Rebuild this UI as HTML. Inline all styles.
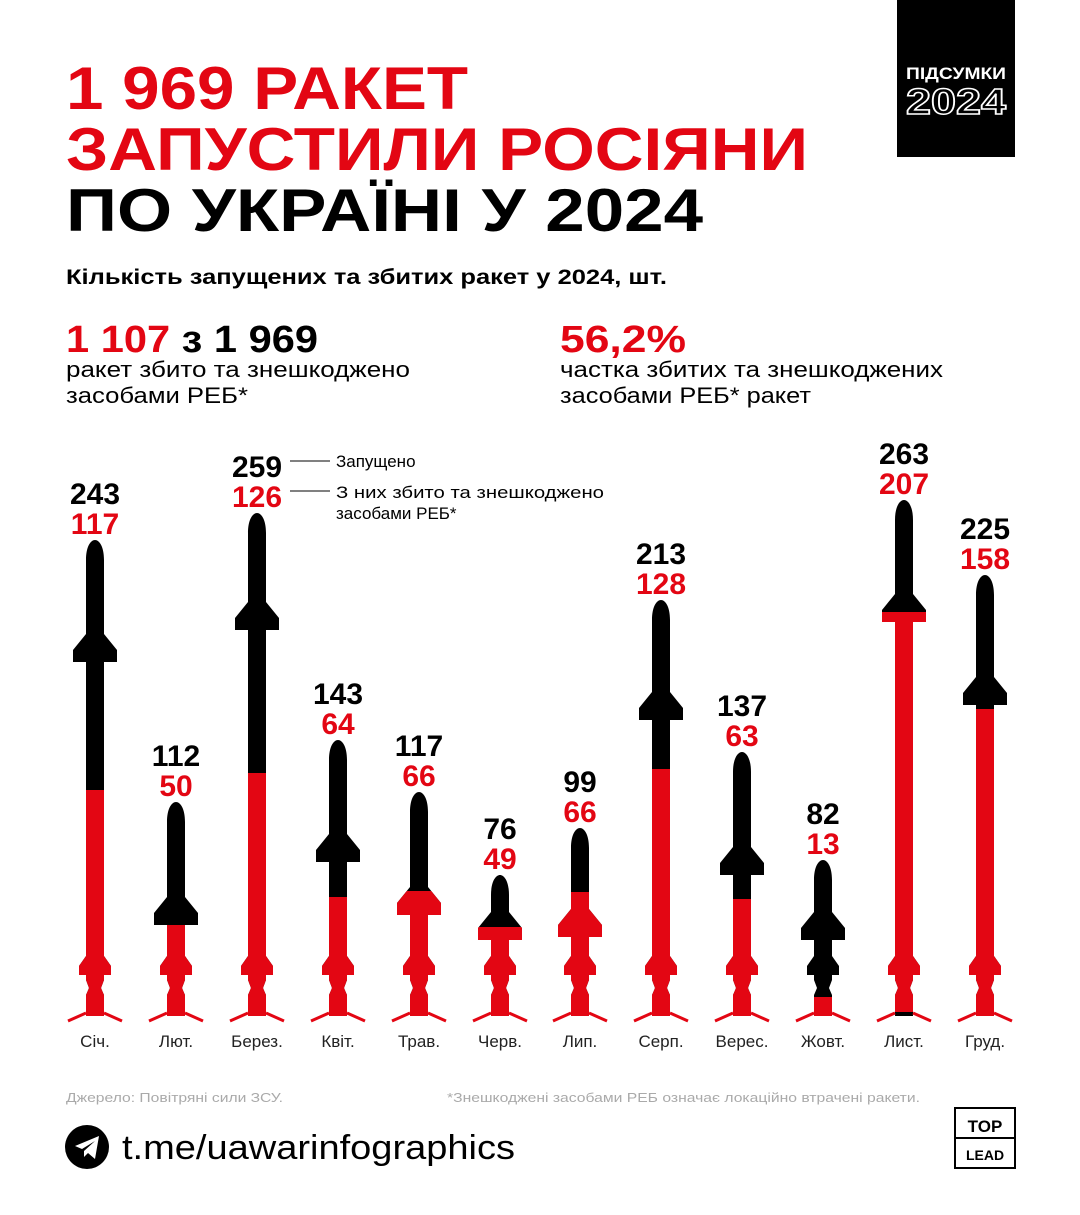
<!DOCTYPE html>
<html><head><meta charset="utf-8"><style>
html,body{margin:0;padding:0;background:#fff}
svg{display:block}
text{font-family:"Liberation Sans",sans-serif}
</style></head><body>
<svg width="1080" height="1215" viewBox="0 0 1080 1215" xmlns="http://www.w3.org/2000/svg">
<rect width="1080" height="1215" fill="#fff"/>
<rect x="897" y="0" width="118" height="157" fill="#000"/>
<text x="956" y="79" text-anchor="middle" font-size="17" font-weight="bold" fill="#fff" textLength="100" lengthAdjust="spacingAndGlyphs">ПІДСУМКИ</text>
<text x="956" y="114" text-anchor="middle" font-size="36" font-weight="bold" fill="none" stroke="#fff" stroke-width="1.5" textLength="100" lengthAdjust="spacingAndGlyphs">2024</text>
<g font-weight="bold" font-size="60">
<text x="66" y="109" fill="#e30613" textLength="402" lengthAdjust="spacingAndGlyphs">1 969 РАКЕТ</text>
<text x="66" y="170" fill="#e30613" textLength="742" lengthAdjust="spacingAndGlyphs">ЗАПУСТИЛИ РОСІЯНИ</text>
<text x="66" y="231" fill="#000" textLength="637" lengthAdjust="spacingAndGlyphs">ПО УКРАЇНІ У 2024</text>
</g>
<text x="66" y="284" font-size="21" font-weight="bold" textLength="601" lengthAdjust="spacingAndGlyphs">Кількість запущених та збитих ракет у 2024, шт.</text>
<text x="66" y="352" font-size="38" font-weight="bold" textLength="252" lengthAdjust="spacingAndGlyphs"><tspan fill="#e30613">1 107</tspan> з 1 969</text>
<text x="66" y="377" font-size="22" textLength="344" lengthAdjust="spacingAndGlyphs">ракет збито та знешкоджено</text>
<text x="66" y="403" font-size="22" textLength="182" lengthAdjust="spacingAndGlyphs">засобами РЕБ*</text>
<text x="560" y="352" font-size="38" font-weight="bold" fill="#e30613" textLength="126" lengthAdjust="spacingAndGlyphs">56,2%</text>
<text x="560" y="377" font-size="22" textLength="383" lengthAdjust="spacingAndGlyphs">частка збитих та знешкоджених</text>
<text x="560" y="403" font-size="22" textLength="251" lengthAdjust="spacingAndGlyphs">засобами РЕБ* ракет</text>
<line x1="290" y1="461" x2="330" y2="461" stroke="#000" stroke-width="1"/>
<line x1="290" y1="491" x2="330" y2="491" stroke="#000" stroke-width="1"/>
<text x="336" y="467" font-size="17">Запущено</text>
<text x="336" y="498" font-size="17" textLength="268" lengthAdjust="spacingAndGlyphs">З них збито та знешкоджено</text>
<text x="336" y="519" font-size="17">засобами РЕБ*</text>
<defs></defs>
<g id="rockets"></g>
<g font-size="17" text-anchor="middle" fill="#222">
<text x="95" y="1047">Січ.</text><text x="176" y="1047">Лют.</text><text x="257" y="1047">Берез.</text>
<text x="338" y="1047">Квіт.</text><text x="419" y="1047">Трав.</text><text x="500" y="1047">Черв.</text>
<text x="580" y="1047">Лип.</text><text x="661" y="1047">Серп.</text><text x="742" y="1047">Верес.</text>
<text x="823" y="1047">Жовт.</text><text x="904" y="1047">Лист.</text><text x="985" y="1047">Груд.</text>
</g>
<text x="66" y="1102" font-size="13" fill="#aaa" textLength="217" lengthAdjust="spacingAndGlyphs">Джерело: Повітряні сили ЗСУ.</text>
<text x="447" y="1102" font-size="13" fill="#aaa" textLength="473" lengthAdjust="spacingAndGlyphs">*Знешкоджені засобами РЕБ означає локаційно втрачені ракети.</text>
<circle cx="87" cy="1147" r="22" fill="#000"/>
<path d="M75 1146 L99 1136 L95 1159 L88 1153 L84 1157 L84 1151 L95 1141 L82 1149 Z" fill="#fff"/>
<text x="122" y="1159" font-size="34" textLength="393" lengthAdjust="spacingAndGlyphs">t.me/uawarinfographics</text>
<rect x="955" y="1108" width="60" height="60" fill="none" stroke="#000" stroke-width="2"/>
<line x1="955" y1="1138" x2="1015" y2="1138" stroke="#000" stroke-width="2"/>
<text x="985" y="1132" text-anchor="middle" font-size="17" font-weight="bold">TOP</text>
<text x="985" y="1160" text-anchor="middle" font-size="14" font-weight="bold">LEAD</text>
</svg>
<script>
var data=[[95,540,790,662,243,117],[176,802,925,925,112,50],[257,513,773,630,259,126],[338,740,897,862,143,64],[419,792,891,915,117,66],[500,875,927,940,76,49],[580,828,892,937,99,66],[661,600,769,720,213,128],[742,752,899,875,137,63],[823,860,997,940,82,13],[904,500,612,622,263,207],[985,575,709,705,225,158]];
var g=document.getElementById('rockets');
var s='';
data.forEach(function(d,i){
var c=d[0],t=d[1],sp=d[2],fb=d[3];
var shape='<path d="M'+(c-9)+','+(t+20)+' C'+(c-9)+','+(t+6)+' '+(c-4)+','+t+' '+c+','+t+' C'+(c+4)+','+t+' '+(c+9)+','+(t+6)+' '+(c+9)+','+(t+20)+' L'+(c+9)+',980 L'+(c+6)+',988 L'+(c+9)+',995 L'+(c+9)+',1016 L'+(c-9)+',1016 L'+(c-9)+',995 L'+(c-6)+',988 L'+(c-9)+',980 Z"/>'+
'<polygon points="'+(c-9)+','+(fb-28)+' '+(c-22)+','+(fb-12)+' '+(c-22)+','+fb+' '+(c+22)+','+fb+' '+(c+22)+','+(fb-12)+' '+(c+9)+','+(fb-28)+'"/>'+
'<polygon points="'+(c-9)+',956 '+(c-16)+',966 '+(c-16)+',975 '+(c+16)+',975 '+(c+16)+',966 '+(c+9)+',956"/>';
s+='<clipPath id="c'+i+'"><rect x="0" y="'+sp+'" width="1080" height="400"/></clipPath>';
s+='<g fill="#000">'+shape+'</g><g fill="#e30613" clip-path="url(#c'+i+')">'+shape+'</g>';
s+='<line x1="'+(c-9)+'" y1="1013" x2="'+(c-27)+'" y2="1021" stroke="#e30613" stroke-width="3"/><line x1="'+(c+9)+'" y1="1013" x2="'+(c+27)+'" y2="1021" stroke="#e30613" stroke-width="3"/>';
s+='<text x="'+c+'" y="'+(t-36)+'" text-anchor="middle" font-size="30" font-weight="bold" fill="#000">'+d[4]+'</text>';
s+='<text x="'+c+'" y="'+(t-6)+'" text-anchor="middle" font-size="30" font-weight="bold" fill="#e30613">'+d[5]+'</text>';
});
g.innerHTML=s;
</script>
</body></html>
